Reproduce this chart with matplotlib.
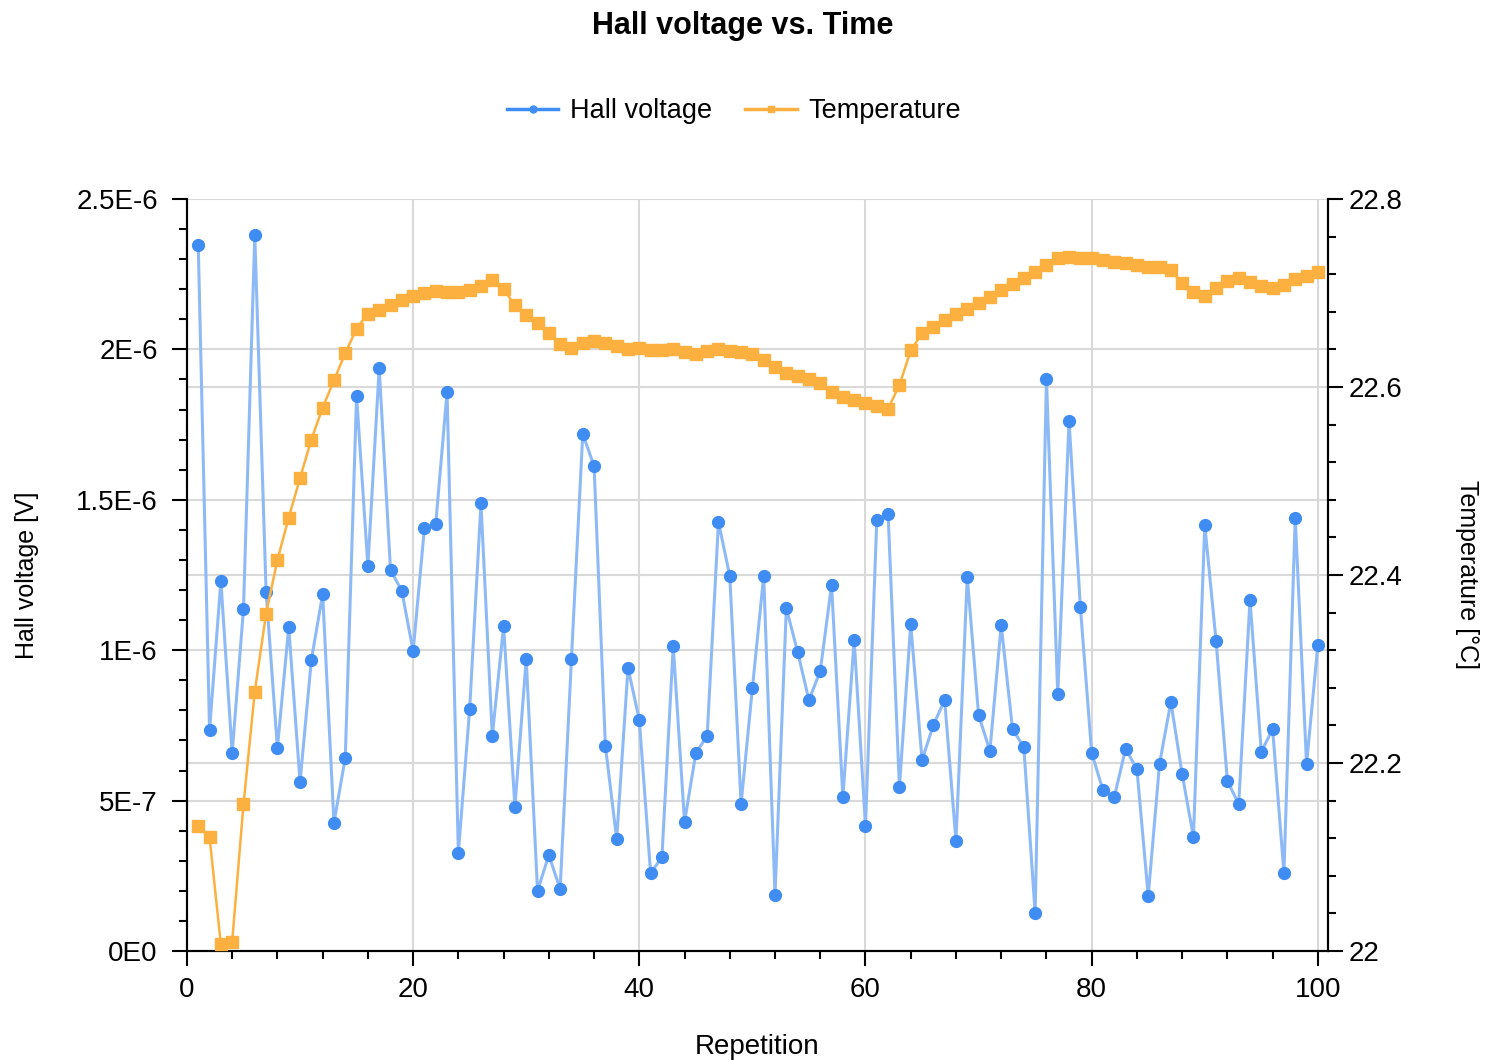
import matplotlib
matplotlib.use("Agg")
import matplotlib.pyplot as plt
import matplotlib.transforms as mtransforms
from matplotlib.lines import Line2D
from matplotlib.ticker import MultipleLocator, FuncFormatter
import numpy as np

plt.rcParams["font.family"] = ["Liberation Sans", "DejaVu Sans"]

# repetitions 1..100
repetition = list(range(1, 101))

# Hall voltage in units of 1E-6 V
hall_uV = [
    2.347, 0.735, 1.230, 0.658, 1.137, 2.380, 1.193, 0.675, 1.077, 0.562,
    0.967, 1.187, 0.426, 0.642, 1.845, 1.280, 1.938, 1.267, 1.197, 0.997,
    1.406, 1.420, 1.858, 0.326, 0.805, 1.489, 0.715, 1.080, 0.479, 0.971,
    0.200, 0.319, 0.206, 0.971, 1.719, 1.612, 0.682, 0.372, 0.941, 0.768,
    0.259, 0.312, 1.014, 0.429, 0.658, 0.715, 1.426, 1.247, 0.489, 0.874,
    1.247, 0.186, 1.140, 0.994, 0.834, 0.931, 1.217, 0.512, 1.034, 0.416,
    1.433, 1.453, 0.545, 1.087, 0.635, 0.751, 0.834, 0.366, 1.243, 0.785,
    0.665, 1.084, 0.738, 0.678, 0.126, 1.902, 0.854, 1.762, 1.144, 0.658,
    0.535, 0.512, 0.672, 0.605, 0.183, 0.622, 0.828, 0.588, 0.379, 1.416,
    1.031, 0.565, 0.489, 1.167, 0.662, 0.738, 0.259, 1.440, 0.622, 1.017,
]
hall_voltage = [v * 1e-6 for v in hall_uV]

temperature = [
    22.133, 22.121, 22.007, 22.010, 22.156, 22.276, 22.359, 22.416, 22.461, 22.503,
    22.544, 22.578, 22.607, 22.636, 22.662, 22.678, 22.682, 22.687, 22.693, 22.697,
    22.700, 22.702, 22.701, 22.701, 22.703, 22.707, 22.714, 22.704, 22.687, 22.677,
    22.668, 22.657, 22.646, 22.641, 22.647, 22.649, 22.647, 22.644, 22.640, 22.641,
    22.639, 22.639, 22.640, 22.637, 22.635, 22.638, 22.640, 22.638, 22.637, 22.635,
    22.629, 22.621, 22.615, 22.612, 22.609, 22.604, 22.595, 22.589, 22.586, 22.583,
    22.580, 22.577, 22.602, 22.639, 22.657, 22.664, 22.671, 22.678, 22.683, 22.689,
    22.696, 22.703, 22.710, 22.716, 22.722, 22.730, 22.737, 22.738, 22.737, 22.737,
    22.735, 22.733, 22.732, 22.730, 22.728, 22.728, 22.724, 22.711, 22.701, 22.697,
    22.705, 22.713, 22.716, 22.712, 22.707, 22.705, 22.709, 22.715, 22.718, 22.722,
]

left_ticks = [0, 0.5e-6, 1e-6, 1.5e-6, 2e-6, 2.5e-6]
left_labels = ["0E0", "5E-7", "1E-6", "1.5E-6", "2E-6", "2.5E-6"]
temp_ticks = [22.0, 22.2, 22.4, 22.6, 22.8]

blue = "#3f8cf2"
blue_line = "#8dbaf7"
orange = "#fbb040"
grid_col = "#d9d9d9"

fig = plt.figure(figsize=(14.86, 10.6), dpi=100)
ax1 = fig.add_axes([0.1258, 0.1028, 0.7679, 0.7095])
ax2 = ax1.twinx()

# grids (the right axis grid is drawn on ax1 so it stays under the data)
ax1.set_axisbelow(True)
ax1.grid(True, which="major", color=grid_col, linewidth=1.5)
blend = mtransforms.blended_transform_factory(ax1.transAxes, ax2.transData)
for t in temp_ticks[1:-1]:
    ax1.plot([0, 1], [t, t], transform=blend, color=grid_col, linewidth=1.5, zorder=0.6)

ax1.plot(repetition, hall_voltage, color=blue_line, linewidth=2.2, zorder=2)
ax1.plot(repetition, hall_voltage, linestyle="none", marker="o", markersize=8.5,
         markerfacecolor=blue, markeredgecolor=blue, zorder=3)
ax2.plot(repetition, temperature, color=orange, linewidth=1.8, marker="s",
         markersize=8, markerfacecolor=orange, markeredgecolor=orange, zorder=3)

ax1.set_xlim(0, 100.9)
ax1.set_ylim(0, 2.5e-6)
ax2.set_ylim(22.0, 22.8)

ax1.xaxis.set_major_locator(MultipleLocator(20))
ax1.xaxis.set_minor_locator(MultipleLocator(4))
ax1.set_yticks(left_ticks)
ax1.yaxis.set_major_formatter(FuncFormatter(lambda v, p: left_labels[left_ticks.index(v)] if v in left_ticks else ""))
ax1.yaxis.set_minor_locator(MultipleLocator(0.1e-6))
ax2.set_yticks(temp_ticks)
ax2.yaxis.set_major_formatter(FuncFormatter(lambda v, p: "22" if abs(v - 22) < 1e-9 else f"{v:.1f}"))
ax2.yaxis.set_minor_locator(MultipleLocator(0.04))

for ax in (ax1, ax2):
    for s in ax.spines.values():
        s.set_linewidth(1.5)
    ax.spines["top"].set_visible(False)
    ax.tick_params(which="major", length=11, width=1.5, labelsize=20, pad=4)
    ax.tick_params(which="minor", length=6, width=1.5)
ax1.tick_params(axis="y", pad=10)
ax1.tick_params(axis="x", pad=8)

ax1.set_xlabel("Repetition", fontsize=20, labelpad=22)
ax1.set_ylabel("Hall voltage [V]", fontsize=18)
ax1.yaxis.set_label_coords(-0.13, 0.5)
ax2.set_ylabel("Temperature [°C]", fontsize=18, rotation=270)
ax2.yaxis.set_label_coords(1.132, 0.5)

fig.suptitle("Hall voltage vs. Time", fontsize=22, fontweight="bold", y=0.99)

handles = [
    Line2D([], [], color=blue, linewidth=2.5, marker="o", markersize=5),
    Line2D([], [], color=orange, linewidth=2.5, marker="s", markersize=5),
]
fig.legend(handles, ["Hall voltage", "Temperature"], loc="center",
           bbox_to_anchor=(0.494, 0.895), ncol=2, frameon=False, fontsize=19.5,
           handlelength=1.9, columnspacing=1.2, handletextpad=0.45)

fig.savefig("out.png", dpi=100, facecolor="white")
